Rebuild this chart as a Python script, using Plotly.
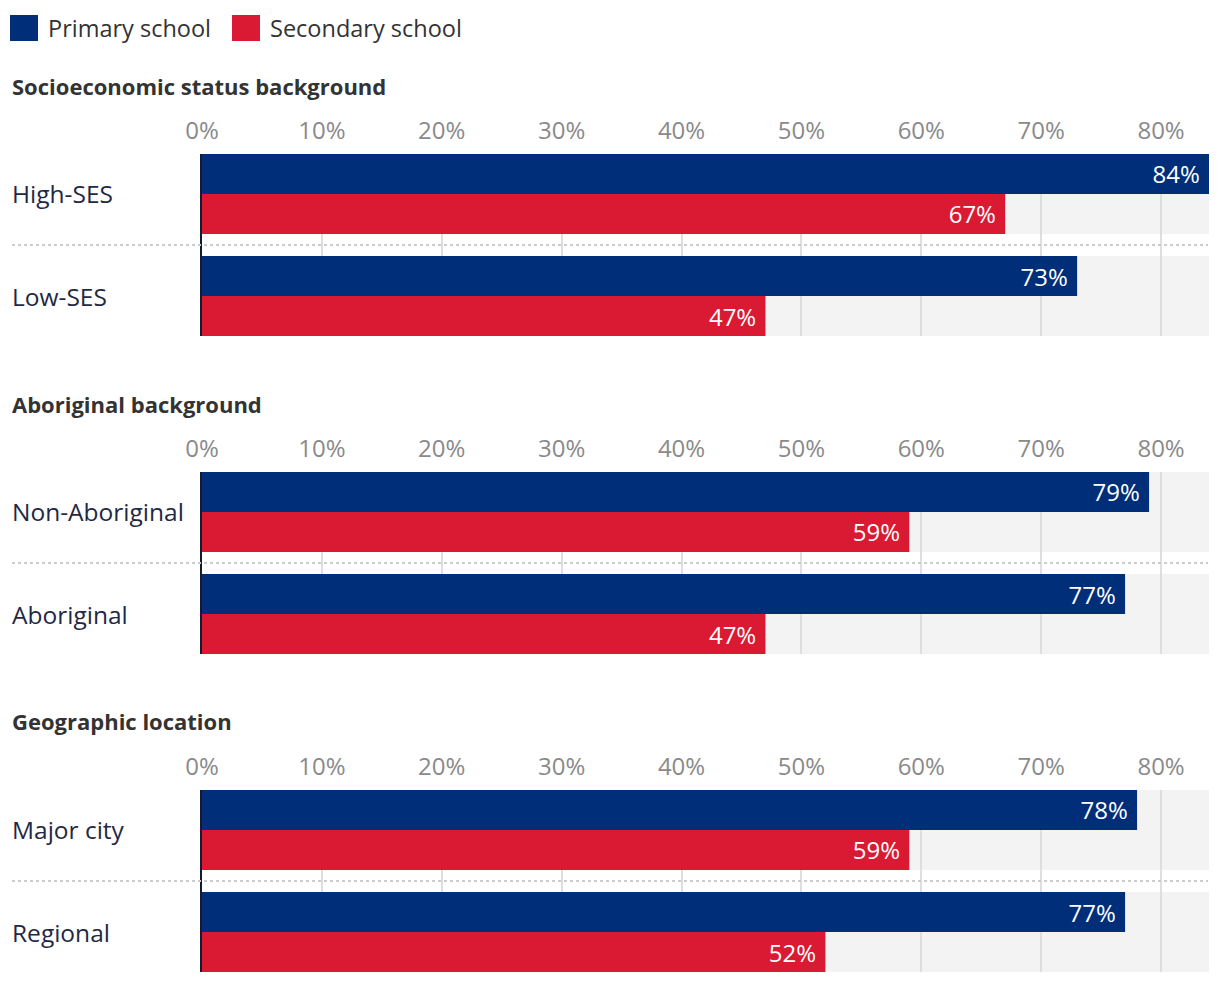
import plotly.graph_objects as go

sections = ["Socioeconomic status background", "Aboriginal background", "Geographic location"]
categories = [["High-SES", "Low-SES"], ["Non-Aboriginal", "Aboriginal"], ["Major city", "Regional"]]
primary = [[84, 73], [79, 77], [78, 77]]
secondary = [[67, 47], [59, 47], [59, 52]]
series_names = ["Primary school", "Secondary school"]
tick_vals = [0, 10, 20, 30, 40, 50, 60, 70, 80]

BLUE = "#002e79"
RED = "#d91a32"
BG = "#f3f3f3"
GRID = "#dedede"
LABEL = "#1f2944"
FONT = "'Open Sans', sans-serif"

W, H = 1220, 982
X_RANGE = [0, 84]
plot_left, plot_right = 202, 1209
panel_tops = [154, 472, 790]
panel_h = 182
half = 0.392
NB = "\u00a0"

fig = go.Figure()
layout = dict(
    width=W, height=H,
    margin=dict(l=0, r=0, t=0, b=0, pad=0),
    paper_bgcolor="white", plot_bgcolor="white",
    barmode="group", bargap=0.216, bargroupgap=0,
    showlegend=False,
    font=dict(family=FONT, size=22, color=LABEL),
)
shapes = []
annotations = []

for i in range(3):
    sfx = "" if i == 0 else str(i + 1)
    xa, ya = "x" + sfx, "y" + sfx
    cats = categories[i]
    for name, vals, col in [(series_names[0], primary[i], BLUE), (series_names[1], secondary[i], RED)]:
        fig.add_trace(go.Bar(
            y=cats, x=vals, name=name, orientation="h",
            marker=dict(color=col, line=dict(width=0)),
            texttemplate="%{x}%" + NB, textposition="inside",
            insidetextanchor="end", textangle=0,
            textfont=dict(color="white", size=24, family=FONT),
            constraintext="none",
            xaxis=xa, yaxis=ya, hoverinfo="skip",
        ))
    top, bot = panel_tops[i], panel_tops[i] + panel_h
    layout["xaxis" + sfx] = dict(
        domain=[plot_left / W, plot_right / W], range=X_RANGE, anchor=ya,
        side="top", tickvals=tick_vals, ticktext=[f"{v}%" for v in tick_vals],
        showgrid=True, gridcolor=GRID, gridwidth=2, zeroline=False,
        ticks="outside", ticklen=4, tickcolor="rgba(0,0,0,0)",
        tickfont=dict(size=24, color="#8a8a8a", family=FONT),
        showline=False, fixedrange=True, automargin=False,
    )
    layout["yaxis" + sfx] = dict(
        domain=[1 - bot / H, 1 - top / H], anchor=xa,
        type="category", categoryarray=cats,
        range=[len(cats) - 1 + half, -half],
        showticklabels=False, showgrid=False, zeroline=False,
        showline=True, linecolor="#141a33", linewidth=2, ticks="",
        automargin=False, fixedrange=True,
    )
    for j, c in enumerate(cats):
        shapes.append(dict(type="rect", xref=xa, yref=ya, x0=X_RANGE[0], x1=X_RANGE[1],
                           y0=j - half, y1=j + half, fillcolor=BG, line=dict(width=0), layer="below"))
        annotations.append(dict(text=c, xref="paper", yref=ya, x=10 / W, y=c,
                                xanchor="left", yanchor="middle", showarrow=False,
                                font=dict(size=24.5, color=LABEL, family=FONT)))
    for j in range(len(cats) - 1):
        shapes.append(dict(type="line", xref="paper", yref=ya, x0=12 / W, x1=1208 / W,
                           y0=j + 0.5, y1=j + 0.5, line=dict(color="#cccccc", width=2, dash="dot")))
    title_y = [86, 404, 721][i]
    annotations.append(dict(text=f"<b>{sections[i]}</b>", xref="paper", yref="paper",
                            x=10 / W, y=1 - title_y / H, xanchor="left", yanchor="middle",
                            showarrow=False, font=dict(size=22, color="#333333", family=FONT)))

legend_items = [(series_names[0], BLUE, 10), (series_names[1], RED, 232)]
for name, col, x0 in legend_items:
    x1 = x0 + 28
    y0, y1 = 15, 41
    shapes.append(dict(type="rect", xref="paper", yref="paper",
                       x0=x0 / W, x1=x1 / W, y0=1 - y1 / H, y1=1 - y0 / H,
                       fillcolor=col, line=dict(width=0)))
    annotations.append(dict(text=name, xref="paper", yref="paper", x=(x1 + 8) / W, y=1 - 28 / H,
                            xanchor="left", yanchor="middle", showarrow=False,
                            font=dict(size=23.5, color="#333333", family=FONT)))

layout["shapes"] = shapes
layout["annotations"] = annotations
fig.update_layout(**layout)
fig.write_html("out.html", config={"displayModeBar": False})
